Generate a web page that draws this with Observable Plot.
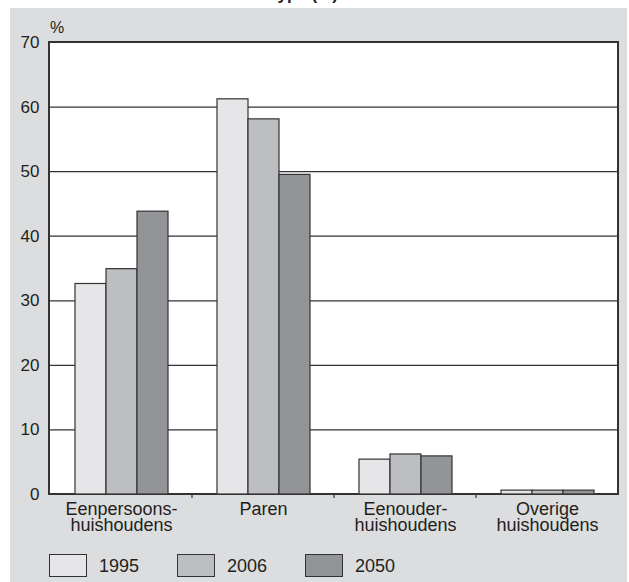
<!DOCTYPE html>
<html>
<head>
<meta charset="utf-8">
<script src="https://cdn.jsdelivr.net/npm/d3@7"></script>
<script src="https://cdn.jsdelivr.net/npm/@observablehq/plot@0.6"></script>
<style>
  html, body { margin: 0; padding: 0; background: #ffffff; width: 629px; height: 582px; overflow: hidden; }
  body { position: relative; font-family: "Liberation Sans", Arial, Helvetica, sans-serif; color: #231f20; }
  #title { position: absolute; top: -14px; right: 291px; font-size: 17px; line-height: 17px; font-weight: bold; white-space: nowrap; }
  #panel { position: absolute; left: 10px; top: 8px; width: 617px; height: 574px; background: #dcdddf; }
  #plotbox { position: absolute; left: 48px; top: 41px; width: 571px; height: 454px; box-sizing: border-box; background: #ffffff; border: 2px solid #333333; }
  #chart { position: absolute; left: 0; top: 0; }
  #pct { position: absolute; left: 50px; top: 19px; font-size: 16px; }
  #legend { position: absolute; left: 49px; top: 552px; display: flex; }
  .item { display: flex; align-items: center; width: 128px; }
  .sw { width: 38px; height: 23px; box-sizing: border-box; border: 1.2px solid #333333; margin-right: 12px; }
  .lab { font-size: 18px; line-height: 23px; padding-top: 3px; }
</style>
</head>
<body>
<div id="title">Huishoudens naar type (%)</div>
<div id="panel"></div>
<div id="plotbox"></div>
<div id="pct">%</div>
<div id="chart"></div>
<div id="legend"></div>
<script>
// Data
const categories = ["Eenpersoons-\nhuishoudens", "Paren", "Eenouder-\nhuishoudens", "Overige\nhuishoudens"];
const years = ["1995", "2006", "2050"];
const values1995 = [32.6, 61.2, 5.4, 0.6];
const values2006 = [34.9, 58.1, 6.2, 0.6];
const values2050 = [43.8, 49.5, 5.9, 0.6];
const yTicks = [0, 10, 20, 30, 40, 50, 60, 70];
const gridTicks = [10, 20, 30, 40, 50, 60];
const colors = ["#e6e6e8", "#bdbec1", "#939497"];

const series = [values1995, values2006, values2050];
const data = [];
categories.forEach((c, i) => {
  years.forEach((y, j) => data.push({category: c, year: y, value: series[j][i]}));
});

const plot = Plot.plot({
  width: 629,
  height: 545,
  marginLeft: 49,
  marginRight: 11,
  marginTop: 42,
  marginBottom: 51,
  style: {background: "transparent", fontFamily: "'Liberation Sans', Arial, Helvetica, sans-serif", color: "#231f20"},
  fx: {domain: categories, padding: 0, label: null},
  x: {domain: years, paddingInner: 0, paddingOuter: 0.745, axis: null},
  y: {domain: [0, 70], ticks: yTicks, label: null},
  color: {domain: years, range: colors},
  marks: [
    Plot.ruleY(gridTicks, {stroke: "#333333", strokeWidth: 1.2}),
    Plot.barY(data, {fx: "category", x: "year", y: "value", fill: "year", stroke: "#333333", strokeWidth: 1.2}),
    Plot.axisFx({anchor: "bottom", tickSize: 0, tickPadding: 9, fontSize: 18, lineHeight: 0.9, label: null}),
    Plot.axisY({anchor: "left", ticks: yTicks, tickSize: 0, tickPadding: 11, fontSize: 17, label: null})
  ]
});
document.getElementById("chart").appendChild(plot);

// boundary tick marks between groups, from the fx scale
const fx = plot.scale("fx");
const ys = plot.scale("y");
const y0 = ys.apply(0);
const svg = d3.select(plot);
categories.slice(1).forEach(c => {
  const xb = fx.apply(c);
  svg.append("line").attr("x1", xb).attr("x2", xb).attr("y1", y0).attr("y2", y0 + 4)
    .attr("stroke", "#333333").attr("stroke-width", 1.2);
});

// legend
const legend = d3.select("#legend");
years.forEach((y, j) => {
  const it = legend.append("div").attr("class", "item");
  it.append("div").attr("class", "sw").style("background", colors[j]);
  it.append("div").attr("class", "lab").text(y);
});
</script>
</body>
</html>
